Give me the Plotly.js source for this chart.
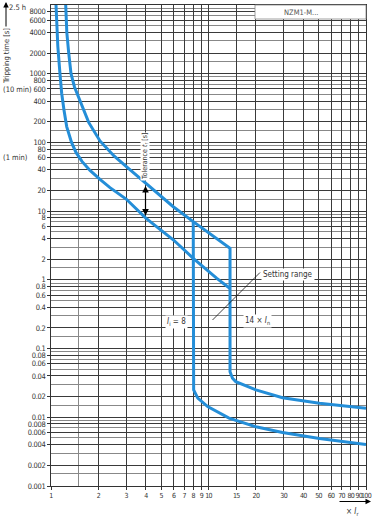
<!DOCTYPE html>
<html>
<head>
<meta charset="utf-8">
<script src="https://cdn.plot.ly/plotly-3.0.1.min.js"></script>
<style>
html,body{margin:0;padding:0;background:#fff;}
#chart{width:372px;height:518px;}
#chart .xtick text{letter-spacing:-0.7px;}
#chart .ytick text{letter-spacing:-0.3px;}
</style>
</head>
<body>
<div id="chart"></div>
<script>
// ---- data ----
const upperX = [1.24, 1.26, 1.295, 1.34, 1.41, 1.539, 1.735, 2.047, 2.512, 3.128, 4.01, 5.976, 8.0, 13.7, 13.7, 14.2, 14.9, 20, 29.5, 50.6, 100];
const upperY = [10000, 4005, 2029, 1000, 642, 389, 195.5, 105.1, 63.6, 41.2, 25.5, 11.6, 7.03, 2.88, 0.046, 0.037, 0.033, 0.025, 0.0193, 0.016, 0.0135];
const lowerX = [1.076, 1.09, 1.105, 1.14, 1.169, 1.209, 1.258, 1.35, 1.441, 1.573, 1.769, 2.047, 2.369, 3.0, 4.0, 6.0, 8.0, 11.3, 13.7];
const lowerY = [10000, 5000, 2500, 1000, 520, 297, 170, 100, 71.5, 52.9, 39.1, 28.9, 22.0, 15.0, 7.9, 3.8, 2.06, 1.05, 0.75];
const instX = [8.0, 8.0, 8.05, 8.55, 9.88, 13.5, 20, 29.5, 50.6, 100];
const instY = [7.03, 0.03, 0.025, 0.019, 0.0143, 0.0097, 0.0073, 0.006, 0.0049, 0.004];

const yTickVals = [0.001,0.002,0.004,0.006,0.008,0.01,0.02,0.04,0.06,0.08,0.1,0.2,0.4,0.6,0.8,1,2,4,6,8,10,20,40,60,80,100,200,400,600,800,1000,2000,4000,6000,8000];
const yTickText = ['0.001','0.002','0.004','0.006','0.008','0.01','0.02','0.04','0.06','0.08','0.1','0.2','0.4','0.6','0.8','1','2','4','6','8','10','20','40','60','80','100','200','400','600','800','1000','2000','4000','6000','8000'];
const yMinorVals = [0.0015,0.003,0.005,0.007,0.009,0.015,0.03,0.05,0.07,0.09,0.15,0.3,0.5,0.7,0.9,1.5,3,5,7,9,15,30,50,70,90,150,300,500,700,900,1500,3000,5000,7000,9000,10000];
const xTickVals = [1,2,3,4,5,6,7,8,9,10,15,20,30,40,50,60,70,80,90,100];
const xTickText = ['1','2','3','4','5','6','7','8','9','10','15','20','30','40','50','60','70','80','90','100'];
const xMinorVals = [1.5];

// ---- layout helpers (pixel -> paper) ----
const L = 51, R = 6, T = 5, B = 32, W = 372, H = 518;
const pw = W - L - R, ph = H - T - B;
const P = px => (px - L) / pw;
const Q = py => (H - B - py) / ph;

const blue = 'rgb(36,142,216)';
const fnt = 'DejaVu Sans Condensed, Liberation Sans Narrow, Open Sans, sans-serif';

const traces = [
  {x: upperX, y: upperY, mode: 'lines', line: {color: blue, width: 3}},
  {x: lowerX, y: lowerY, mode: 'lines', line: {color: blue, width: 3}},
  {x: instX, y: instY, mode: 'lines', line: {color: blue, width: 3}}
];

const txt = (x, y, text, opts) => Object.assign({
  xref: 'paper', yref: 'paper', x: P(x), y: Q(y), text: text, showarrow: false,
  font: {family: fnt, size: 8, color: '#333'}, xanchor: 'center', yanchor: 'middle'
}, opts || {});

const annotations = [
  txt(145, 157, 'Tolerance <i>t</i><sub>r</sub> [s]', {textangle: -90, bgcolor: '#fff', font: {family: fnt, size: 7, color: '#333'}, borderpad: 0}),
  {xref: 'paper', yref: 'paper', x: P(145.5), y: Q(186), ax: 0, ay: 31, axref: 'pixel', ayref: 'pixel', text: '', showarrow: true,
   arrowhead: 2, arrowside: 'end+start', arrowsize: 1.1, arrowwidth: 1.2, arrowcolor: '#000', standoff: 0, startstandoff: 0},
  txt(288, 274, 'Setting range', {bgcolor: '#fff', borderpad: 1}),
  txt(176, 322, '<i>I</i><sub>i</sub> = 8', {bgcolor: '#fff', borderpad: 1}),
  txt(257, 321, '14 × <i>I</i><sub>n</sub>', {bgcolor: '#fff', borderpad: 1}),
  txt(301, 12.5, 'NZM1-M...', {font: {family: fnt, size: 7.5, color: '#555'}}),
  txt(7, 56, 'Tripping time [s]', {textangle: -90, font: {family: fnt, size: 7.5, color: '#333'}}),
  {xref: 'paper', yref: 'paper', x: P(6), y: Q(2), ax: 0, ay: 26, axref: 'pixel', ayref: 'pixel', text: '', showarrow: true,
   arrowhead: 2, arrowsize: 1.1, arrowwidth: 1, arrowcolor: '#000', standoff: 0},
  txt(17, 7.5, '2.5 h', {font: {family: fnt, size: 7.5, color: '#333'}}),
  txt(1, 89, '(10 min)', {xanchor: 'left', font: {family: fnt, size: 7.5, color: '#333'}}),
  txt(1, 158, '(1 min)', {xanchor: 'left', font: {family: fnt, size: 7.5, color: '#333'}}),
  {xref: 'paper', yref: 'paper', x: P(371), y: Q(501.5), ax: -33, ay: 0, axref: 'pixel', ayref: 'pixel', text: '', showarrow: true,
   arrowhead: 2, arrowsize: 1.1, arrowwidth: 1, arrowcolor: '#000', standoff: 0},
  txt(352, 512, '× <i>I</i><sub>r</sub>', {font: {family: fnt, size: 8, color: '#333'}})
];

const shapes = [
  {type: 'rect', xref: 'paper', yref: 'paper', x0: P(255), x1: P(366), y0: Q(19), y1: Q(5), fillcolor: '#fff', line: {color: '#888', width: 0.8}, layer: 'above'},
  {type: 'line', xref: 'paper', yref: 'paper', x0: P(212.5), y0: Q(320), x1: P(260), y1: Q(272.5), line: {color: '#111', width: 0.8}}
];

const yFont = {family: fnt, size: 7.5, color: '#333'};
const xFont = {family: fnt, size: 7, color: '#333'};

const layout = {
  width: W, height: H,
  margin: {l: L, r: R, t: T, b: B, pad: 0},
  paper_bgcolor: '#fff', plot_bgcolor: '#fff',
  showlegend: false,
  xaxis: {
    type: 'log', range: [0, 2], tickmode: 'array', tickvals: xTickVals, ticktext: xTickText, tickangle: 0,
    ticklabeloverflow: 'allow',
    showgrid: true, gridcolor: '#3a3a3a', gridwidth: 1, zeroline: false,
    showline: true, linecolor: '#333', linewidth: 1, mirror: true,
    ticks: 'outside', ticklen: 3, tickcolor: '#333', tickfont: xFont,
    minor: {tickmode: 'array', tickvals: xMinorVals, showgrid: true, gridcolor: '#888', gridwidth: 1, ticks: ''}
  },
  yaxis: {
    type: 'log', range: [-3, 4], tickmode: 'array', tickvals: yTickVals, ticktext: yTickText,
    ticklabeloverflow: 'allow',
    showgrid: true, gridcolor: '#3a3a3a', gridwidth: 1, zeroline: false,
    showline: true, linecolor: '#333', linewidth: 1, mirror: true,
    ticks: 'outside', ticklen: 3, tickcolor: '#333', tickfont: yFont,
    minor: {tickmode: 'array', tickvals: yMinorVals, showgrid: true, gridcolor: '#888', gridwidth: 1, ticks: ''}
  },
  annotations: annotations,
  shapes: shapes
};

Plotly.newPlot('chart', traces, layout, {staticPlot: true, displayModeBar: false});
</script>
</body>
</html>
